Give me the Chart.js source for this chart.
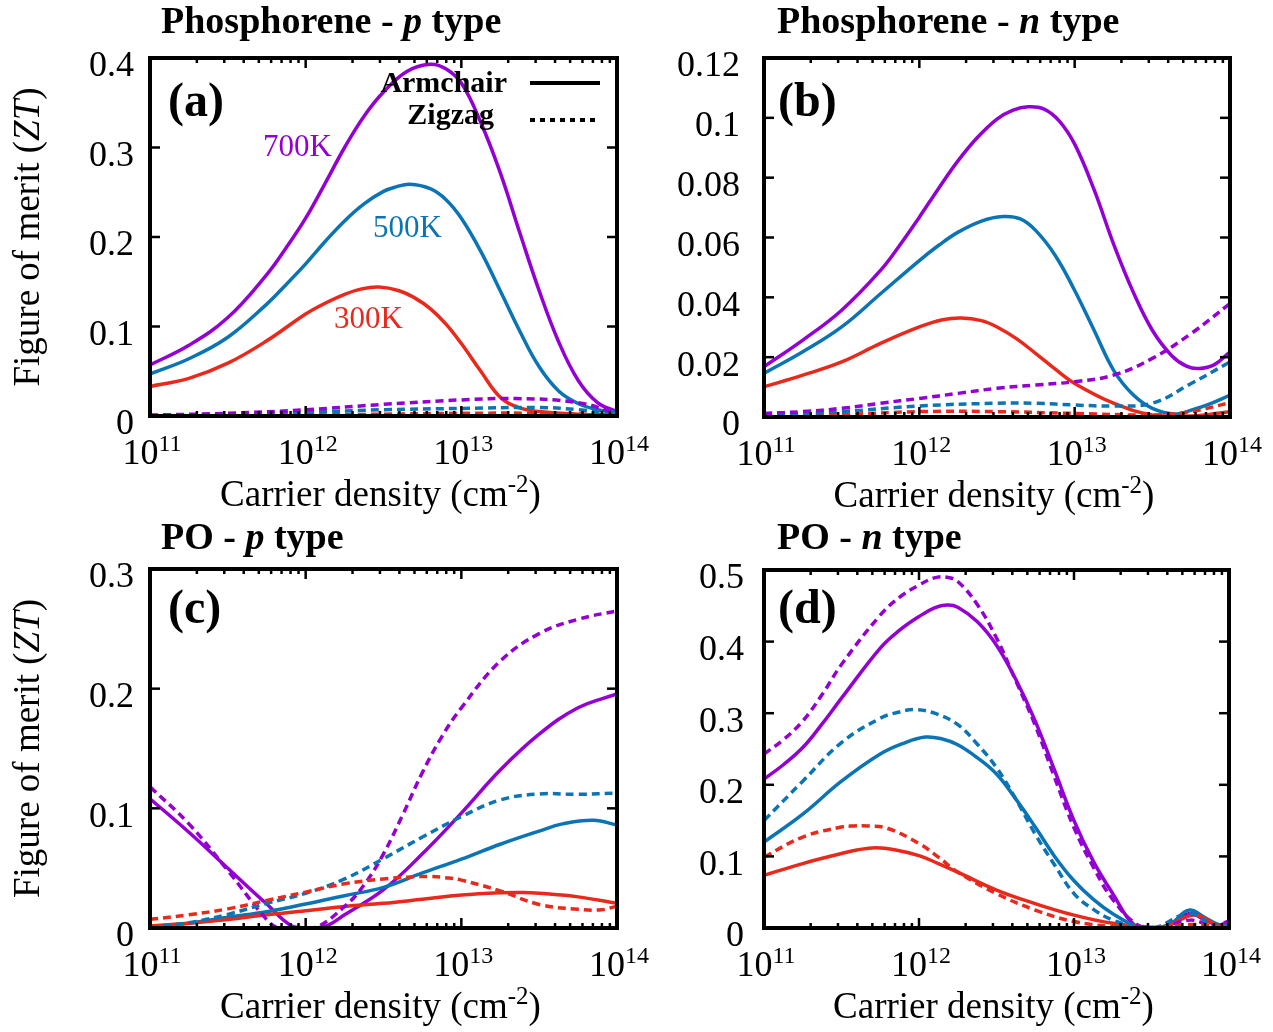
<!DOCTYPE html>
<html><head><meta charset="utf-8">
<script src="https://cdn.jsdelivr.net/npm/chart.js@4.4.1/dist/chart.umd.min.js"></script>
<style>
html,body{margin:0;padding:0;background:#fff;}
#wrap{position:relative;width:1273px;height:1032px;overflow:hidden;background:#fff;}
canvas{position:absolute;left:0;top:0;}
</style></head><body><div id="wrap">
<canvas id="ca" width="1273" height="1032"></canvas>
<canvas id="cb" width="1273" height="1032"></canvas>
<canvas id="cc" width="1273" height="1032"></canvas>
<canvas id="cd" width="1273" height="1032"></canvas>
</div>
<script>
// ---------------- DATA ----------------
// x: log10 of carrier density (cm^-2), y: figure of merit ZT
const xTickExps = [11, 12, 13, 14];
const yTickLabelsA = ['0', '0.1', '0.2', '0.3', '0.4'];
const yTickLabelsB = ['0', '0.02', '0.04', '0.06', '0.08', '0.1', '0.12'];
const yTickLabelsC = ['0', '0.1', '0.2', '0.3'];
const yTickLabelsD = ['0', '0.1', '0.2', '0.3', '0.4', '0.5'];

// (a) Phosphorene - p type
const a700arm = [[11,0.057],[11.25,0.079],[11.5,0.110],[11.75,0.158],[11.875,0.188],[12,0.221],[12.125,0.26],[12.25,0.3],[12.375,0.335],[12.5,0.362],[12.65,0.385],[12.8,0.393],[12.9,0.388],[13,0.372],[13.125,0.328],[13.25,0.272],[13.375,0.205],[13.5,0.14],[13.625,0.083],[13.75,0.04],[13.875,0.015],[14,0.005]];
const a500arm = [[11,0.047],[11.25,0.064],[11.5,0.088],[11.75,0.125],[11.875,0.147],[12,0.170],[12.125,0.195],[12.25,0.218],[12.375,0.237],[12.5,0.251],[12.58,0.256],[12.67,0.259],[12.8,0.254],[12.9,0.242],[13,0.221],[13.125,0.184],[13.25,0.14],[13.375,0.095],[13.5,0.055],[13.625,0.028],[13.75,0.014],[13.875,0.007],[14,0.004]];
const a300arm = [[11,0.033],[11.25,0.042],[11.5,0.059],[11.75,0.084],[12,0.114],[12.125,0.126],[12.25,0.136],[12.36,0.142],[12.47,0.144],[12.6,0.14],[12.7,0.132],[12.8,0.12],[12.9,0.103],[13,0.081],[13.125,0.05],[13.25,0.021],[13.375,0.009],[13.5,0.005],[13.75,0.002],[14,0.001]];
const a700zig = [[11,0.001],[11.5,0.003],[12,0.007],[12.5,0.013],[13,0.018],[13.35,0.0195],[13.75,0.015],[14,0.003]];
const a500zig = [[11,0.0005],[11.5,0.002],[12,0.004],[12.5,0.007],[13,0.0085],[13.5,0.0095],[13.75,0.007],[14,0.002]];
const a300zig = [[11,0.0003],[12,0.001],[12.5,0.002],[13,0.003],[13.5,0.003],[14,0.001]];

// (b) Phosphorene - n type
const b700arm = [[11,0.0168],[11.25,0.0257],[11.5,0.0357],[11.75,0.049],[11.875,0.0575],[12,0.0668],[12.125,0.0765],[12.25,0.0857],[12.375,0.0935],[12.5,0.0996],[12.6,0.1025],[12.7,0.1037],[12.8,0.1030],[12.9,0.0990],[13,0.0912],[13.125,0.076],[13.25,0.0579],[13.375,0.042],[13.5,0.029],[13.625,0.0205],[13.72,0.017],[13.8,0.0162],[13.9,0.0175],[14,0.0218]];
const b500arm = [[11,0.0146],[11.25,0.0218],[11.5,0.0301],[11.75,0.0412],[12,0.0523],[12.125,0.0574],[12.25,0.0618],[12.4,0.0655],[12.54,0.067],[12.65,0.0662],[12.75,0.0623],[12.875,0.054],[13,0.0423],[13.125,0.029],[13.25,0.0157],[13.375,0.0075],[13.5,0.0029],[13.65,0.001],[13.75,0.0023],[13.875,0.0045],[14,0.0073]];
const b300arm = [[11,0.0101],[11.25,0.014],[11.5,0.0184],[11.75,0.0246],[12,0.0301],[12.15,0.0325],[12.27,0.0331],[12.4,0.0322],[12.5,0.0301],[12.625,0.0262],[12.75,0.0212],[12.875,0.016],[13,0.0112],[13.25,0.0046],[13.5,0.0007],[13.75,0.0003],[14,0.0018]];
const b700zig = [[11,0.0012],[11.25,0.0018],[11.5,0.0029],[11.75,0.0046],[12,0.0062],[12.25,0.0079],[12.5,0.0096],[12.75,0.0107],[13,0.0118],[13.25,0.014],[13.5,0.0196],[13.75,0.0279],[14,0.0379]];
const b500zig = [[11,0.0007],[11.5,0.0018],[12,0.0037],[12.5,0.0046],[12.75,0.0046],[13,0.004],[13.25,0.0037],[13.5,0.0046],[13.75,0.0112],[14,0.0184]];
const b300zig = [[11,0.0003],[11.5,0.0008],[12,0.0018],[12.5,0.0018],[13,0.0012],[13.5,0.0007],[13.75,0.0018],[14,0.0048]];

// (c) PO - p type
const c700arm = [[11,0.108],[11.25,0.08],[11.5,0.05],[11.75,0.02],[11.92,0.001],[12.05,0],[12.14,0.002],[12.25,0.011],[12.5,0.032],[12.75,0.062],[13,0.096],[13.25,0.132],[13.5,0.162],[13.75,0.184],[14,0.1956]];
const c700zig = [[11,0.118],[11.25,0.087],[11.5,0.048],[11.75,0.007],[11.83,0],[12.05,0],[12.25,0.018],[12.375,0.036],[12.5,0.062],[12.625,0.095],[12.75,0.13],[12.875,0.16],[13,0.184],[13.25,0.223],[13.5,0.246],[13.75,0.258],[14,0.265]];
const c500arm = [[11,0.001],[11.25,0.004],[11.5,0.009],[11.75,0.0136],[12,0.02],[12.25,0.027],[12.5,0.034],[12.75,0.046],[13,0.0575],[13.25,0.07],[13.5,0.081],[13.65,0.087],[13.85,0.09],[14,0.086]];
const c500zig = [[11,0.0006],[11.25,0.0044],[11.5,0.0114],[11.75,0.0206],[12,0.029],[12.25,0.041],[12.5,0.058],[12.75,0.076],[13,0.093],[13.25,0.107],[13.5,0.112],[13.75,0.1117],[14,0.1128]];
const c300arm = [[11,0.0017],[11.25,0.004],[11.5,0.007],[11.75,0.011],[12,0.0144],[12.25,0.018],[12.5,0.0206],[12.75,0.024],[13,0.0275],[13.25,0.0294],[13.4,0.0297],[13.5,0.029],[13.75,0.026],[14,0.0206]];
const c300zig = [[11,0.0072],[11.25,0.011],[11.5,0.016],[11.75,0.023],[12,0.03],[12.25,0.037],[12.5,0.041],[12.65,0.0425],[12.8,0.043],[12.9,0.042],[13,0.04],[13.25,0.031],[13.5,0.0197],[13.75,0.0156],[13.9,0.0152],[14,0.0183]];

// (d) PO - n type
const d700arm = [[11,0.208],[11.125,0.228],[11.25,0.252],[11.375,0.285],[11.5,0.321],[11.75,0.391],[11.875,0.416],[12,0.435],[12.1,0.447],[12.18,0.451],[12.25,0.448],[12.375,0.428],[12.5,0.395],[12.625,0.347],[12.75,0.289],[12.875,0.22],[13,0.15],[13.125,0.093],[13.25,0.048],[13.39,0.004],[13.52,0],[13.62,0.004],[13.74,0.02],[13.85,0.011],[13.93,0.004],[14,0.009]];
const d700zig = [[11,0.243],[11.125,0.263],[11.25,0.289],[11.375,0.326],[11.5,0.368],[11.75,0.437],[11.875,0.462],[12,0.479],[12.1,0.489],[12.18,0.49],[12.25,0.484],[12.375,0.452],[12.5,0.405],[12.625,0.345],[12.75,0.283],[12.875,0.21],[13,0.14],[13.125,0.085],[13.25,0.04],[13.42,0.003],[13.55,0],[13.75,0.011],[13.9,0.003],[14,0.01]];
const d500arm = [[11,0.12],[11.25,0.159],[11.5,0.205],[11.75,0.243],[11.9,0.258],[12.04,0.2667],[12.15,0.264],[12.25,0.256],[12.375,0.238],[12.5,0.215],[12.625,0.18],[12.75,0.141],[12.875,0.1],[13,0.066],[13.125,0.04],[13.25,0.02],[13.4,0.003],[13.52,0],[13.62,0.005],[13.74,0.025],[13.85,0.014],[13.93,0.005],[14,0.006]];
const d500zig = [[11,0.15],[11.25,0.205],[11.5,0.259],[11.75,0.293],[11.86,0.301],[11.97,0.305],[12.1,0.3],[12.25,0.284],[12.375,0.257],[12.5,0.224],[12.625,0.18],[12.75,0.131],[12.875,0.088],[13,0.048],[13.125,0.026],[13.25,0.011],[13.4,0.002],[13.52,0],[13.74,0.02],[13.9,0.004],[14,0.003]];
const d300arm = [[11,0.0736],[11.25,0.09],[11.5,0.104],[11.6,0.109],[11.72,0.112],[11.85,0.109],[12,0.101],[12.125,0.09],[12.25,0.078],[12.5,0.053],[12.75,0.034],[13,0.018],[13.25,0.0065],[13.5,0.001],[13.6,0.003],[13.78,0.018],[13.92,0.004],[14,0.002]];
const d300zig = [[11,0.099],[11.25,0.127],[11.5,0.141],[11.58,0.1425],[11.67,0.1426],[11.8,0.139],[12,0.118],[12.125,0.099],[12.25,0.078],[12.5,0.048],[12.75,0.025],[13,0.009],[13.25,0.002],[13.5,0],[13.75,0.005],[14,0.001]];

// ---------------- STYLE / LAYOUT ----------------
const PURPLE = '#9400D3', BLUE = '#0A74B4', RED = '#E8291C';
const FONT = '"Liberation Serif", "Times New Roman", serif';
const DASH = [8, 5];

const panels = [
  { id: 'ca', area: [150, 617, 58, 416], ticks: yTickLabelsA, tickPad: 8,
    title: ['Phosphorene - ', 'p', ' type'], titlePos: [161, 33], letter: '(a)', letterPos: [168, 116], yTitle: true,
    series: [[a700zig, PURPLE, true], [a500zig, BLUE, true], [a300zig, RED, true], [a300arm, RED, false], [a500arm, BLUE, false], [a700arm, PURPLE, false]],
    labels: [['700K', PURPLE, 263, 156], ['500K', BLUE, 373, 237], ['300K', RED, 334, 328]], legend: true },
  { id: 'cb', area: [764, 1230, 58, 417], ticks: yTickLabelsB, tickPad: 16,
    title: ['Phosphorene - ', 'n', ' type'], titlePos: [777, 33], letter: '(b)', letterPos: [778, 116], yTitle: false,
    series: [[b700zig, PURPLE, true], [b500zig, BLUE, true], [b300zig, RED, true], [b300arm, RED, false], [b500arm, BLUE, false], [b700arm, PURPLE, false]],
    labels: [], legend: false },
  { id: 'cc', area: [150, 617, 569, 928], ticks: yTickLabelsC, tickPad: 8,
    title: ['PO - ', 'p', ' type'], titlePos: [161, 549], letter: '(c)', letterPos: [168, 623], yTitle: true,
    series: [[c300zig, RED, true], [c500zig, BLUE, true], [c700zig, PURPLE, true], [c300arm, RED, false], [c500arm, BLUE, false], [c700arm, PURPLE, false]],
    labels: [], legend: false },
  { id: 'cd', area: [764, 1229, 570, 928], ticks: yTickLabelsD, tickPad: 12,
    title: ['PO - ', 'n', ' type'], titlePos: [777, 549], letter: '(d)', letterPos: [778, 623], yTitle: false,
    series: [[d300zig, RED, true], [d500zig, BLUE, true], [d700zig, PURPLE, true], [d300arm, RED, false], [d500arm, BLUE, false], [d700arm, PURPLE, false]],
    labels: [], legend: false }
];

function drawRuns(ctx, parts, x, y, align) {
  let w = 0;
  parts.forEach(p => { ctx.font = p.font; p.w = ctx.measureText(p.t).width; w += p.w; });
  let cx = align === 'center' ? x - w / 2 : (align === 'right' ? x - w : x);
  ctx.textAlign = 'left';
  ctx.textBaseline = 'alphabetic';
  parts.forEach(p => { ctx.font = p.font; ctx.fillText(p.t, cx, y + (p.dy || 0)); cx += p.w; });
}

const decorPlugin = {
  id: 'decor',
  afterDraw(chart, args, opts) {
    const P = opts.panel;
    const ctx = chart.ctx, a = chart.chartArea, xs = chart.scales.x, ys = chart.scales.y;
    ctx.save();
    ctx.strokeStyle = '#000';
    ctx.fillStyle = '#000';
    ctx.lineCap = 'butt';
    ctx.lineWidth = 2.5;
    const line = (x1, y1, x2, y2) => { ctx.beginPath(); ctx.moveTo(x1, y1); ctx.lineTo(x2, y2); ctx.stroke(); };
    for (let d = xTickExps[0]; d < xTickExps[xTickExps.length - 1]; d++) {
      for (let m = 1; m < 10; m++) {
        const px = xs.getPixelForValue(m * Math.pow(10, d));
        const len = m === 1 ? 10 : 5;
        line(px, a.bottom, px, a.bottom - len);
        line(px, a.top, px, a.top + len);
      }
    }
    P.ticks.forEach(l => {
      const py = ys.getPixelForValue(parseFloat(l));
      line(a.left, py, a.left + 10, py);
      line(a.right, py, a.right - 10, py);
    });
    ctx.lineWidth = 4;
    ctx.strokeRect(a.left, a.top, a.right - a.left, a.bottom - a.top);

    xTickExps.forEach(e => {
      const px = xs.getPixelForValue(Math.pow(10, e));
      drawRuns(ctx, [{ t: '10', font: '36px ' + FONT }, { t: String(e), font: '24px ' + FONT, dy: -13 }], px + 2, a.bottom + 48, 'center');
    });
    const cxm = (a.left + a.right) / 2;
    drawRuns(ctx, [{ t: 'Carrier density (cm', font: '37px ' + FONT }, { t: '-2', font: '25px ' + FONT, dy: -14 }, { t: ')', font: '37px ' + FONT }], cxm - 3, a.bottom + 90, 'center');
    if (P.yTitle) {
      ctx.save();
      ctx.translate(39, (a.top + a.bottom) / 2);
      ctx.rotate(-Math.PI / 2);
      drawRuns(ctx, [{ t: 'Figure of merit (', font: '37px ' + FONT }, { t: 'ZT', font: 'italic 37px ' + FONT }, { t: ')', font: '37px ' + FONT }], 0, 0, 'center');
      ctx.restore();
    }
    drawRuns(ctx, [{ t: P.title[0], font: 'bold 38px ' + FONT }, { t: P.title[1], font: 'italic bold 38px ' + FONT }, { t: P.title[2], font: 'bold 38px ' + FONT }], P.titlePos[0], P.titlePos[1], 'left');
    drawRuns(ctx, [{ t: P.letter, font: 'bold 48px ' + FONT }], P.letterPos[0], P.letterPos[1], 'left');
    P.labels.forEach(L => {
      ctx.fillStyle = L[1];
      drawRuns(ctx, [{ t: L[0], font: '31px ' + FONT }], L[2], L[3], 'left');
    });
    ctx.fillStyle = '#000';
    if (P.legend) {
      drawRuns(ctx, [{ t: 'Armchair', font: 'bold 30px ' + FONT }], 507, 92, 'right');
      drawRuns(ctx, [{ t: 'Zigzag', font: 'bold 30px ' + FONT }], 494, 124, 'right');
      ctx.lineWidth = 4;
      line(530, 83, 600, 83);
      ctx.setLineDash([5, 5]);
      line(530, 120, 600, 120);
      ctx.setLineDash([]);
    }
    ctx.restore();
  }
};

const W = 1273, H = 1032;
panels.forEach(P => {
  const [L, R, T, B] = P.area;
  const yMax = parseFloat(P.ticks[P.ticks.length - 1]);
  new Chart(document.getElementById(P.id), {
    type: 'line',
    data: {
      datasets: P.series.map(s => ({
        data: s[0].map(p => ({ x: Math.pow(10, p[0]), y: p[1] })),
        borderColor: s[1],
        borderWidth: 3.5,
        borderDash: s[2] ? DASH : [],
        pointRadius: 0,
        fill: false,
        tension: 0.4
      }))
    },
    options: {
      responsive: false,
      animation: false,
      devicePixelRatio: 1,
      events: [],
      layout: { padding: { left: L - 150, right: W - R, top: T, bottom: H - B } },
      plugins: { legend: { display: false }, tooltip: { enabled: false }, decor: { panel: P } },
      scales: {
        x: { type: 'logarithmic', min: 1e11, max: 1e14, display: false },
        y: {
          type: 'linear', min: 0, max: yMax,
          grid: { display: false }, border: { display: false },
          afterFit: s => { s.width = 150; },
          afterBuildTicks: s => { s.ticks = P.ticks.map(l => ({ value: parseFloat(l) })); },
          ticks: {
            color: '#000', font: { family: FONT, size: 36 }, padding: P.tickPad, labelOffset: 9,
            callback: (v, i) => P.ticks[i]
          }
        }
      }
    },
    plugins: [decorPlugin]
  });
});
</script>
</body></html>
